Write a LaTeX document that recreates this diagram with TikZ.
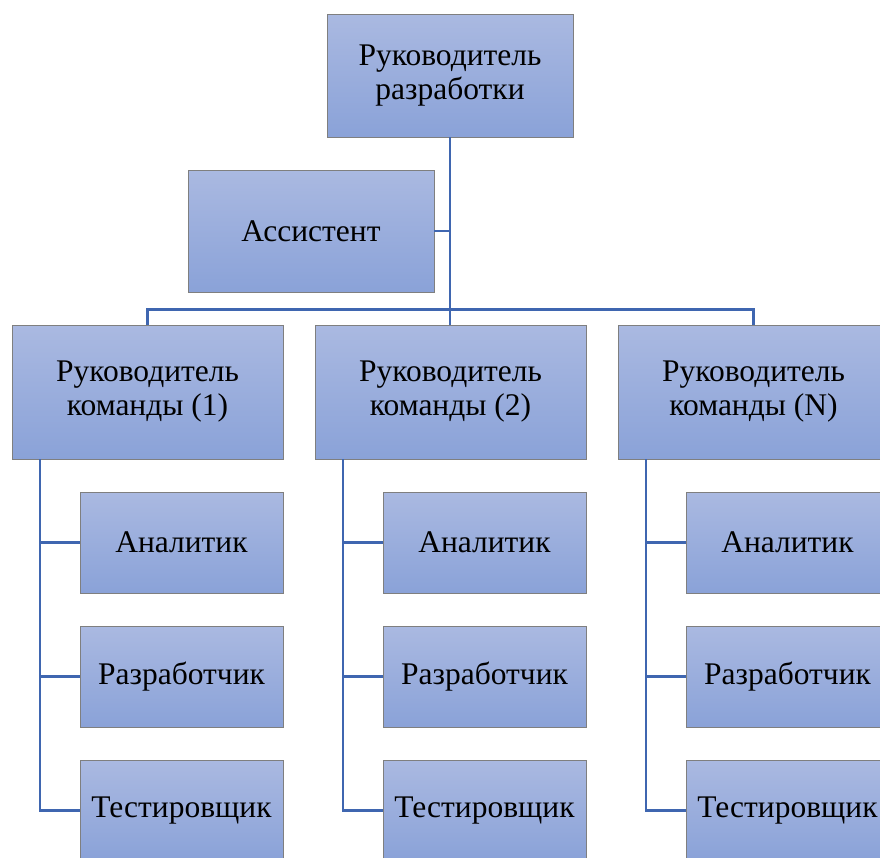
\documentclass[tikz,border=0pt]{standalone}
\usepackage{fontspec}
\setmainfont{Liberation Serif}
\definecolor{boxtop}{HTML}{AAB9E1}
\definecolor{boxbot}{HTML}{8AA2D8}
\definecolor{boxedge}{HTML}{7F7F7F}
\definecolor{linecol}{HTML}{3F66B0}
\tikzset{
  box/.style={rectangle, draw=boxedge, line width=0.9pt, top color=boxtop, bottom color=boxbot,
    anchor=north west, inner sep=2pt, outer sep=0pt, align=center,
    font=\fontsize{31.5}{34}\selectfont},
  conn/.style={draw=linecol, line width=2.8pt},
}
\begin{document}
\begin{tikzpicture}[x=1pt,y=-1pt]
\useasboundingbox (0,0) rectangle (880,857);
\clip (0,0) rectangle (880,857);
% top level
\node[box, minimum width=246pt, minimum height=123pt] (top) at (327,14) {Руководитель\\разработки};
\node[box, minimum width=246pt, minimum height=122pt] (asst) at (188,170) {Ассистент};
% team leaders
\node[box, minimum width=271pt, minimum height=134pt] (t1) at (12,325) {Руководитель\\команды (1)};
\node[box, minimum width=271pt, minimum height=134pt] (t2) at (315,325) {Руководитель\\команды (2)};
\node[box, minimum width=271pt, minimum height=134pt] (t3) at (618,325) {Руководитель\\команды (N)};
% members
\foreach \t/\x in {1/80,2/383,3/686}{
  \node[box, minimum width=203pt, minimum height=101pt] (a\t) at (\x,492) {Аналитик};
  \node[box, minimum width=203pt, minimum height=101pt] (r\t) at (\x,626) {Разработчик};
  \node[box, minimum width=203pt, minimum height=101pt] (s\t) at (\x,760) {Тестировщик};
}
% connectors
\coordinate (bus) at (450,309.5);
\draw[conn] (top.south) -- (top.south |- bus);
\draw[conn] (asst.east) -- (asst.east -| top.south);
\draw[conn] (t1.north) |- (bus) -| (t3.north);
\draw[conn] (bus) -- (bus |- t2.north);
\coordinate (l1) at (40,459);
\coordinate (l2) at (343,459);
\coordinate (l3) at (646,459);
\foreach \t in {1,2,3}{
  \draw[conn] (l\t) |- (s\t.west);
  \draw[conn] (l\t |- a\t.west) -- (a\t.west);
  \draw[conn] (l\t |- r\t.west) -- (r\t.west);
}
\end{tikzpicture}
\end{document}
